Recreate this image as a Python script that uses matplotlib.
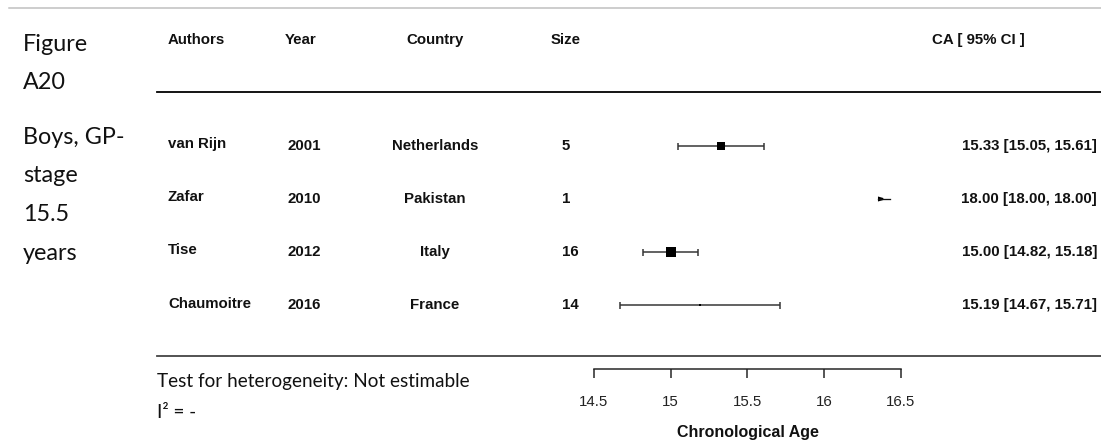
import numpy as np
import matplotlib
matplotlib.use("Agg")
import matplotlib.pyplot as plt

# --- DATA ---
authors = ['van Rijn', 'Zafar', 'Tise', 'Chaumoitre']
years = ['2001', '2010', '2012', '2016']
countries = ['Netherlands', 'Pakistan', 'Italy', 'France']
sizes = ['5', '1', '16', '14']
ca_mean = [15.33, 18.00, 15.00, 15.19]
ca_lo = [15.05, 18.00, 14.82, 14.67]
ca_hi = [15.61, 18.00, 15.18, 15.71]
age_ticks = [14.5, 15, 15.5, 16, 16.5]
side_lines = ['Figure', 'A20', '', 'Boys, GP-', 'stage', '15.5', 'years']

# --- LAYOUT (pixels) ---
W, H, DPI = 1101, 443, 100
PPU = 153.5          # pixels per year of age
X_AXIS0 = 594        # pixel position of first tick
CLIP_HI = 16.43      # right clip limit of the plot region
ROW0, ROW_STEP = 146, 53
PX = 72 / DPI        # one pixel in points

BOLD = dict(family='Liberation Sans', weight='bold', fontsize=10.8, color='#111111')
CAL = ['Lato', 'DejaVu Sans']


def fx(x):
    return x / W


def fy(y):
    return 1 - y / H


fig = plt.figure(figsize=(W / DPI, H / DPI), dpi=DPI)
ax = fig.add_axes([0, 0, 1, 1])
ax.axis('off')
ax.set_xlim(age_ticks[0] - X_AXIS0 / PPU, age_ticks[0] + (W - X_AXIS0) / PPU)
ax.set_ylim(H, 0)

# rules
ax.plot([age_ticks[0] - (X_AXIS0 - 9) / PPU, ax.get_xlim()[1]], [8, 8], color='#bfbfbf', lw=1.5 * PX)
x_left = age_ticks[0] - (X_AXIS0 - 157) / PPU
ax.plot([x_left, ax.get_xlim()[1]], [92, 92], color='#000000', lw=1.8 * PX)
ax.plot([x_left, ax.get_xlim()[1]], [356, 356], color='#444444', lw=1.8 * PX)

# left caption
base_y = [51, 89, 0, 144, 182.5, 221, 259.5]
for txt, by in zip(side_lines, base_y):
    if txt:
        fig.text(fx(23), fy(by), txt, family=CAL, fontsize=16.8, va='baseline', color='#111111')

# header
hy = fy(40)
fig.text(fx(168), hy, 'Authors', ha='left', va='center', **BOLD)
fig.text(fx(285), hy, 'Year', ha='left', va='center', **BOLD)
fig.text(fx(435), hy, 'Country', ha='center', va='center', **BOLD)
fig.text(fx(551), hy, 'Size', ha='left', va='center', **BOLD)
fig.text(fx(1025), hy, 'CA [ 95% CI ]', ha='right', va='center', **BOLD)

# table rows
row_y = [ROW0 + i * ROW_STEP for i in range(len(authors))]
for i, y in enumerate(row_y):
    fig.text(fx(168), fy(y - 1.5), authors[i], ha='left', va='center', **BOLD)
    fig.text(fx(287), fy(y), years[i], ha='left', va='center', **BOLD)
    fig.text(fx(435), fy(y), countries[i], ha='center', va='center', **BOLD)
    fig.text(fx(562), fy(y), sizes[i], ha='left', va='center', **BOLD)
    fig.text(fx(1097), fy(y), f'{ca_mean[i]:.2f} [{ca_lo[i]:.2f}, {ca_hi[i]:.2f}]',
             ha='right', va='center', **BOLD)

# marker sizes from inverse standard errors
lo = np.array(ca_lo)
hi = np.array(ca_hi)
se = (hi - lo) / 3.92
inside = se > 0
wi = np.zeros_like(se)
wi[inside] = 1 / se[inside]
wmin, wmax = wi[inside].min(), wi[inside].max()
norm = np.clip((wi - wmin) / (wmax - wmin), 0, 1)
psize = 0.45 + 1.05 * np.sqrt(norm)
side_px = psize * 6.5

for i, y in enumerate(row_y):
    if lo[i] > CLIP_HI:
        # estimate outside the plotted range: small arrow at the clip limit
        ax.plot([CLIP_HI - 0.08, CLIP_HI], [y, y], color='#111111', lw=1.3 * PX)
        ax.fill([CLIP_HI - 0.08, CLIP_HI - 0.045, CLIP_HI - 0.045, CLIP_HI - 0.08],
                [y - 2.5, y - 1, y + 1, y + 2.5], color='#000000', lw=0)
        continue
    ax.plot([lo[i], hi[i]], [y, y], color='#333333', lw=1.5 * PX, solid_capstyle='butt')
    ax.vlines([lo[i], hi[i]], y - 3.5, y + 3.5, color='#333333', lw=1.5 * PX)
    s = side_px[i] * PX
    ax.scatter([ca_mean[i]], [y], marker='s', s=s ** 2, color='#000000', lw=0, zorder=3)

# x axis
AX_Y = 369
ax.plot([age_ticks[0], age_ticks[-1]], [AX_Y, AX_Y], color='#222222', lw=1.5 * PX)
ax.vlines(age_ticks, AX_Y, AX_Y + 9, color='#222222', lw=1.5 * PX)
for t in age_ticks:
    ax.text(t, 402, f'{t:g}', ha='center', va='center', family='Liberation Sans',
            fontsize=10.8, color='#222222')
ax.text(15.5, 433, 'Chronological Age', ha='center', va='center', family='Liberation Sans',
        weight='bold', fontsize=11.5, color='#111111')

# heterogeneity notes
fig.text(fx(157), fy(382), 'Test for heterogeneity: Not estimable', family=CAL, fontsize=13.6,
         va='center', color='#111111')
fig.text(fx(157), fy(413), 'I\u00b2 = -', family=CAL, fontsize=13.6, va='center', color='#111111')

fig.savefig('out.png', dpi=DPI)
